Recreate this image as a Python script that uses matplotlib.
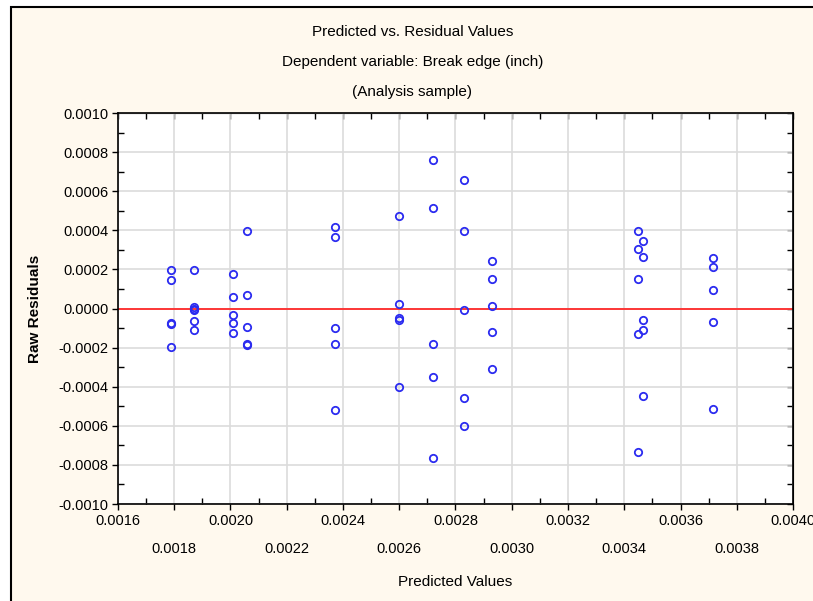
import matplotlib
matplotlib.use('Agg')
import matplotlib.pyplot as plt
from matplotlib.patches import Rectangle
from matplotlib.ticker import MultipleLocator

# predicted value of each column of points and the residuals read at it
pred_groups = [0.00179, 0.00187, 0.00201, 0.00206, 0.00237, 0.00260,
               0.00272, 0.00283, 0.00293, 0.003448, 0.003465, 0.003714]
resid_groups = [
    [0.000195, 0.000145, -0.000072, -0.000078, -0.000195],
    [0.000195, 0.000008, 0.0, -0.000008, -0.000065, -0.00011],
    [0.000175, 0.00006, -0.000035, -0.000075, -0.000125],
    [0.000395, 0.00007, -0.000095, -0.00018, -0.000185],
    [0.000415, 0.000365, -0.0001, -0.00018, -0.00052],
    [0.000475, 0.000025, -0.00005, -0.00006, -0.0004],
    [0.000758, 0.000514, -0.00018, -0.00035, -0.000763],
    [0.000656, 0.000395, -0.00001, -0.00046, -0.0006],
    [0.000243, 0.000153, 0.000013, -0.00012, -0.00031],
    [0.000395, 0.000304, 0.000153, -0.00013, -0.000734],
    [0.000344, 0.000263, -0.000057, -0.00011, -0.00045],
    [0.000257, 0.000211, 0.000093, -0.000069, -0.000512],
]
x_ticks = [0.0016, 0.0018, 0.0020, 0.0022, 0.0024, 0.0026, 0.0028,
           0.0030, 0.0032, 0.0034, 0.0036, 0.0038, 0.0040]
y_ticks = [-0.0010, -0.0008, -0.0006, -0.0004, -0.0002, 0.0,
           0.0002, 0.0004, 0.0006, 0.0008, 0.0010]
title_lines = ['Predicted vs. Residual Values',
               'Dependent variable: Break edge (inch)',
               '(Analysis sample)']

plt.rcParams['font.family'] = ['Liberation Sans Narrow', 'Liberation Sans', 'DejaVu Sans']

fig = plt.figure(figsize=(8.13, 6.01), dpi=100, facecolor='white')
# cream panel with the black frame that is cut at right and bottom
fig.patches.append(Rectangle((11 / 813, -0.05), 1.5, 1 - 7 / 601 + 0.05,
                             transform=fig.transFigure, facecolor='#fff9ee',
                             edgecolor='black', linewidth=1.5, zorder=-10))

ax = fig.add_axes([118 / 813, 1 - 504 / 601, 675 / 813, 391 / 601])
ax.set_facecolor('white')
ax.set_zorder(2)

xs = []
ys = []
for px, group in zip(pred_groups, resid_groups):
    for r in group:
        xs.append(px)
        ys.append(r)

ax.axhline(0, color='#ff2a2a', linewidth=1.3, zorder=2)
ax.plot(xs, ys, linestyle='none', marker='o', markersize=5.3,
        markerfacecolor='none', markeredgecolor='#2b2bf0',
        markeredgewidth=1.3, zorder=3)

ax.set_xlim(0.0016, 0.0040)
ax.set_ylim(-0.0010, 0.0010)
ax.set_xticks(x_ticks)
ax.set_xticklabels([f'{v:.4f}' if i % 2 == 0 else f'\n{v:.4f}'
                    for i, v in enumerate(x_ticks)], fontsize=10.5)
for lbl in ax.get_xticklabels():
    lbl.set_linespacing(2.3)
ax.set_yticks(y_ticks)
ax.set_yticklabels([f'{v:.4f}' for v in y_ticks], fontsize=10.5)
ax.xaxis.set_minor_locator(MultipleLocator(0.0001))
ax.yaxis.set_minor_locator(MultipleLocator(0.0001))
ax.tick_params(which='major', direction='out', length=4, width=1, pad=3)
ax.tick_params(which='minor', direction='in', length=4, width=1)

# top and right: inward ticks only, no labels
top = ax.secondary_xaxis('top')
top.set_xticks(x_ticks)
top.xaxis.set_minor_locator(MultipleLocator(0.0001))
top.tick_params(which='both', direction='in', length=4, width=1,
                labeltop=False)
right = ax.secondary_yaxis('right')
right.set_yticks(y_ticks)
right.yaxis.set_minor_locator(MultipleLocator(0.0001))
right.tick_params(which='both', direction='in', length=4, width=1,
                  labelright=False)

ax.grid(True, which='major', color='#dcdcdc', linewidth=1.2, zorder=0)
ax.set_axisbelow(True)
for sp in ax.spines.values():
    sp.set_linewidth(1.2)

ax.set_xlabel('Predicted Values', fontsize=11, labelpad=14)
ax.set_ylabel('Raw Residuals', fontsize=11, fontweight='bold', labelpad=12)

for i, line in enumerate(title_lines):
    fig.text(0.507, 1 - (32 + i * 30) / 601, line, ha='center', va='center',
             fontsize=11)

fig.savefig('out.png', dpi=100, facecolor=fig.get_facecolor())
